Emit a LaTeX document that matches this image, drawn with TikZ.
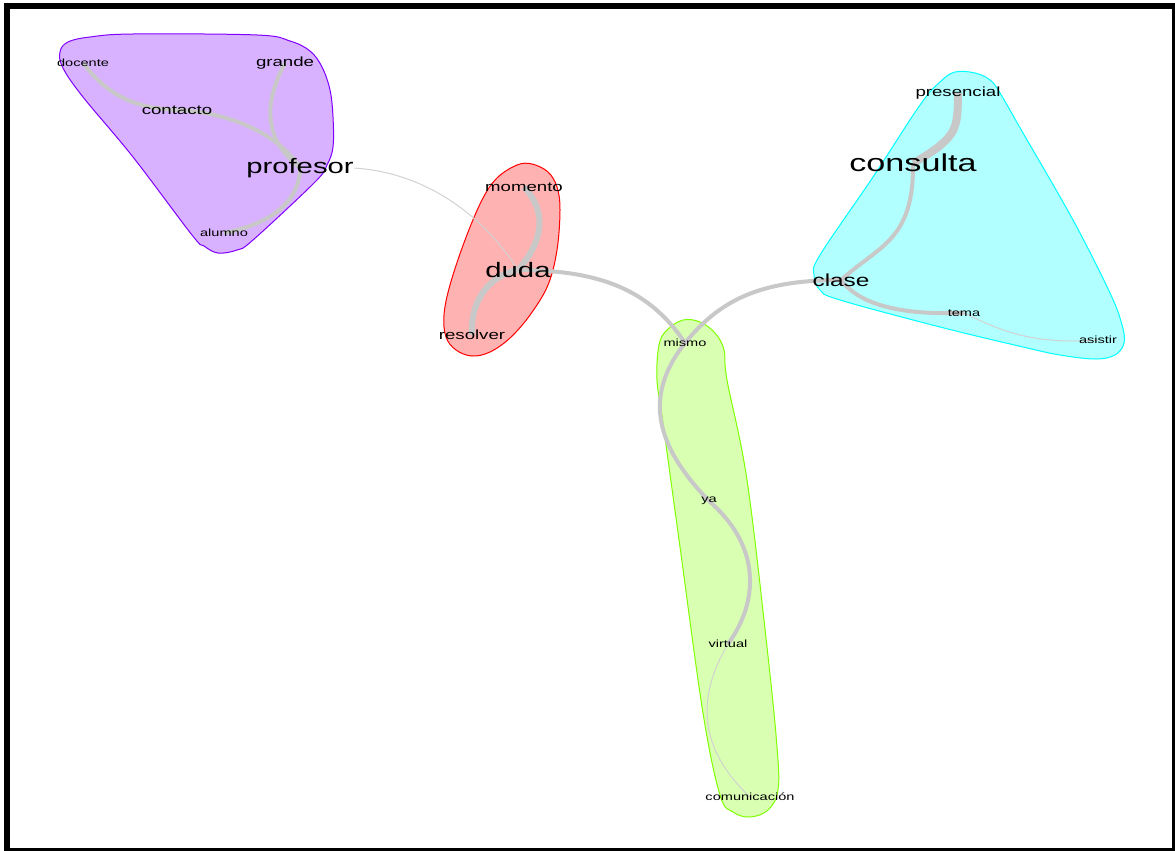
\documentclass[tikz,border=0pt]{standalone}
\usepackage{fontspec}
\setmainfont{Liberation Sans}
\usepackage{graphicx}

\definecolor{linkgray}{RGB}{200,200,200}
\definecolor{thingray}{RGB}{210,210,210}
\definecolor{purpfill}{RGB}{217,178,255}
\definecolor{purpline}{RGB}{128,0,255}
\definecolor{redfill}{RGB}{255,178,178}
\definecolor{redline}{RGB}{255,0,0}
\definecolor{cyanfill}{RGB}{178,255,255}
\definecolor{cyanline}{RGB}{0,255,255}
\definecolor{greenfill}{RGB}{217,255,178}
\definecolor{greenline}{RGB}{128,255,0}

\newcommand{\wide}[1]{\scalebox{1.4}[1]{#1}}

\pgfdeclarelayer{bg}
\pgfdeclarelayer{lnks}
\pgfsetlayers{bg,lnks,main}

\tikzset{
  word/.style={inner sep=0pt, text=black},
  wsmall/.style={word, font=\fontsize{10.4}{12}\selectfont},
  wmed/.style={word, font=\fontsize{13.3}{15}\selectfont},
  wclase/.style={word, font=\fontsize{17.4}{20}\selectfont},
  wbig/.style={word, font=\fontsize{20.9}{24}\selectfont},
  whuge/.style={word, font=\fontsize{24.4}{28}\selectfont},
  lnk/.style={draw=linkgray, line width=4pt},
  lnkthick/.style={draw=linkgray, line width=6pt},
  lnkfat/.style={draw=linkgray, line width=8pt},
  lnkthin/.style={draw=thingray, line width=1pt},
  hull/.style={line width=1pt}
}

\begin{document}
\begin{tikzpicture}[x=1pt,y=-1pt]
\useasboundingbox (0,0) rectangle (1175,851);

% groups
\begin{pgfonlayer}{bg}
\fill [white] (0,0) rectangle (1175,851);
\draw [hull, draw=purpline, fill=purpfill] plot [smooth cycle, tension=0.6] coordinates {
  (60,52) (68,42) (90,37) (133,34) (257,35) (290,41) (310,51) (322,67) (330,90)
  (333,117) (333,147) (327,165) (315,182) (253,240) (237,250) (218,253) (204,246)
  (192,235) (133,157) (83,97) (63,68)};
\draw [hull, draw=redline, fill=redfill] plot [smooth cycle, tension=0.6] coordinates {
  (517,165) (532,164) (548,172) (557,187) (560,210) (557,250) (548,285) (530,315)
  (510,338) (490,352) (472,356) (456,350) (446,337) (444,315) (450,285) (465,240)
  (482,200) (497,178)};
\draw [hull, draw=cyanline, fill=cyanfill] plot [smooth cycle, tension=0.6] coordinates {
  (955,72) (975,73) (990,80) (1000,93) (1023,133) (1073,220) (1110,293) (1122,325)
  (1124,343) (1115,355) (1095,359) (1060,355) (1023,347) (940,327) (840,300)
  (820,290) (814,275) (820,255) (873,177) (920,105) (940,82)};
\draw [hull, draw=greenline, fill=greenfill] plot [smooth cycle, tension=0.6] coordinates {
  (683,320) (700,322) (715,333) (724,350) (727,380) (747,480) (767,647) (777,747)
  (778,790) (768,810) (750,817) (733,812) (720,795) (703,713) (680,547) (663,423)
  (657,380) (659,345) (667,330)};
\end{pgfonlayer}

% nodes
\node [wsmall] (docente) at (83,63) {\wide{docente}};
\node [wmed] (grande) at (285,63) {\wide{grande}};
\node [wmed] (contacto) at (177,110) {\wide{contacto}};
\node [wbig] (profesor) at (300,168) {\wide{profesor}};
\node [wsmall] (alumno) at (224,233) {\wide{alumno}};
\node [wmed] (momento) at (524,187) {\wide{momento}};
\node [wbig] (duda) at (518,270) {\wide{duda}};
\node [wmed] (resolver) at (472,335) {\wide{resolver}};
\node [wsmall] (mismo) at (685,343) {\wide{mismo}};
\node [wmed] (presencial) at (958,93) {\wide{presencial}};
\node [whuge] (consulta) at (913,163) {\wide{consulta}};
\node [wclase] (clase) at (841,280) {\wide{clase}};
\node [wsmall] (tema) at (964,313) {\wide{tema}};
\node [wsmall] (asistir) at (1098,340) {\wide{asistir}};
\node [wsmall] (ya) at (709,501) {\wide{ya}};
\node [wsmall] (virtual) at (728,644) {\wide{virtual}};
\node [wsmall] (comunicacion) at (750,797) {\wide{comunicación}};

% links
\begin{pgfonlayer}{lnks}
\draw [lnk] (docente.center) .. controls (105,92) and (130,108) .. (contacto.center);
\draw [lnk] (contacto.center) .. controls (230,112) and (280,135) .. (profesor.center);
\draw [lnk] (grande.center) .. controls (268,95) and (258,135) .. (profesor.center);
\draw [lnk] (profesor.center) .. controls (300,195) and (280,222) .. (alumno.center);
\draw [lnkthin] (profesor.east) .. controls (420,172) and (480,210) .. (duda.center);
\draw [lnkthick] (momento.center) .. controls (550,215) and (540,245) .. (duda.center);
\draw [lnkthick] (duda.center) .. controls (490,275) and (470,300) .. (resolver.center);
\draw [lnk] (duda.center) .. controls (600,270) and (650,290) .. (mismo.center);
\draw [lnk] (clase.center) .. controls (760,280) and (720,300) .. (mismo.center);
\draw [lnk] (mismo.center) .. controls (640,400) and (660,450) .. (ya.center);
\draw [lnk] (ya.center) .. controls (760,545) and (760,600) .. (virtual.center);
\draw [lnkthin] (virtual.center) .. controls (695,700) and (700,750) .. (comunicacion.center);
\draw [lnkfat] (presencial.center) .. controls (958,125) and (956,133) .. (937,148)
  .. controls (920,160) and (915,162) .. (consulta.center);
\draw [lnk] (consulta.center) .. controls (914,240) and (880,245) .. (clase.center);
\draw [lnk] (clase.center) .. controls (860,305) and (900,315) .. (tema.center);
\draw [lnkthin] (tema.center) .. controls (1000,330) and (1030,345) .. (asistir.center);
\end{pgfonlayer}

% frame
\draw [line width=6pt] (7,6) rectangle (1175,851);
\end{tikzpicture}
\end{document}
